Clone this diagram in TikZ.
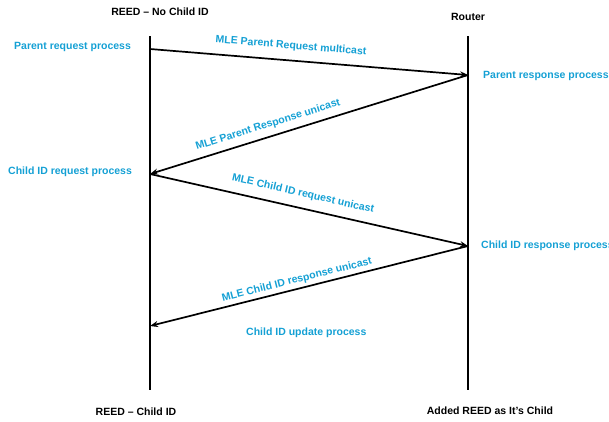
\documentclass[tikz,border=0pt]{standalone}
\usepackage{fontspec}
\setmainfont{Liberation Sans}
\usetikzlibrary{arrows.meta}
\definecolor{msgblue}{RGB}{20,160,212}
\begin{document}
\begin{tikzpicture}[x=1pt,y=-1pt,
  lifeline/.style={line width=2pt},
  msg/.style={line width=1.7pt,-{Stealth[length=8pt,width=6pt]}},
  proc/.style={text=msgblue,font=\bfseries\fontsize{10.5}{12}\selectfont,inner sep=0pt},
  actor/.style={font=\bfseries\fontsize{10.5}{12}\selectfont,inner sep=0pt}]
\useasboundingbox (0,0) rectangle (609,421);
% actors
\node[actor] (reedtop) at (160,12) {REED – No Child ID};
\node[actor] (router) at (468,17) {Router};
\node[actor] (reedbot) at (136,412) {REED – Child ID};
\node[actor] (routerbot) at (490,411) {Added REED as It’s Child};
% lifelines
\coordinate (Ltop) at (150,36);
\coordinate (Lbot) at (150,390);
\coordinate (Rtop) at (468,36);
\coordinate (Rbot) at (468,390);
\draw[lifeline] (Ltop) -- (Lbot);
\draw[lifeline] (Rtop) -- (Rbot);
% message points
\coordinate (L1) at (150,49);
\coordinate (R1) at (468,75);
\coordinate (L2) at (150,174);
\coordinate (R2) at (468,246);
\coordinate (L3) at (150,326);
\draw[msg] (L1) -- (R1);
\draw[msg] (R1) -- (L2);
\draw[msg] (L2) -- (R2);
\draw[msg] (R2) -- (L3);
% message labels
\node[proc,rotate=-4.7] (m1) at (291,46) {MLE Parent Request multicast};
\node[proc,rotate=17.3] (m2) at (268,125) {MLE Parent Response unicast};
\node[proc,rotate=-12.8] (m3) at (303,194) {MLE Child ID request unicast};
\node[proc,rotate=14.1] (m4) at (297,280) {MLE Child ID response unicast};
% process labels
\node[proc,anchor=west] (p1) at (14,47) {Parent request process};
\node[proc,anchor=west] (p2) at (483,76) {Parent response process};
\node[proc,anchor=west] (p3) at (8,172) {Child ID request process};
\node[proc,anchor=west] (p4) at (481,246) {Child ID response process};
\node[proc,anchor=west] (p5) at (246,333) {Child ID update process};
\end{tikzpicture}
\end{document}
